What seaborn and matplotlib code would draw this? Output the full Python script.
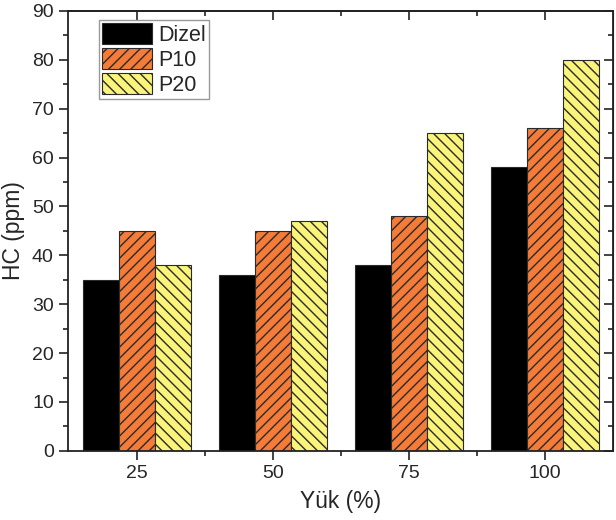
import pandas as pd
import seaborn as sns
import matplotlib.pyplot as plt
from matplotlib.ticker import MultipleLocator, FixedLocator

# data
loads = ['25', '50', '75', '100']
fuels = ['Dizel', 'P10', 'P20']
dizel = [35, 36, 38, 58]
p10 = [45, 45, 48, 66]
p20 = [38, 47, 65, 80]

colors = ['#000000', '#F47B38', '#FAF47A']
hatches = ['', '///', '\\\\\\']

df = pd.DataFrame({
    'load': loads * 3,
    'fuel': [f for f in fuels for _ in loads],
    'hc': dizel + p10 + p20,
})

sns.set_style('ticks')
plt.rcParams['font.family'] = ['Liberation Sans', 'DejaVu Sans']
plt.rcParams['hatch.linewidth'] = 1.0

fig = plt.figure(figsize=(6.16, 5.2), dpi=100)
ax = fig.add_axes([0.110, 0.133, 0.885, 0.846])

sns.barplot(data=df, x='load', y='hc', hue='fuel', order=loads, hue_order=fuels,
            palette=colors, saturation=1, width=0.8, legend=False, ax=ax,
            edgecolor='black', linewidth=0.8)

for cont, h in zip(ax.containers, hatches):
    for bar in cont:
        bar.set_hatch(h)
        bar.set_edgecolor('#2a2a2a')

ax.set_xlim(-0.51, 3.5)
ax.set_ylim(0, 90)
ax.yaxis.set_major_locator(MultipleLocator(10))
ax.yaxis.set_minor_locator(MultipleLocator(5))
ax.xaxis.set_minor_locator(FixedLocator([0.5, 1.5, 2.5]))

ax.set_xlabel('Yük (%)', fontsize=16.5, labelpad=6)
ax.set_ylabel('HC (ppm)', fontsize=16.5, labelpad=5)

for s in ax.spines.values():
    s.set_linewidth(1.3)
    s.set_color('#222222')

ax.tick_params(which='major', direction='out', length=6.5, width=1.2, labelsize=14, color='#222222')
ax.tick_params(which='minor', direction='out', length=3.5, width=1.2, color='#222222')

# inward ticks on top and right
top = ax.secondary_xaxis('top')
top.set_xticks(range(len(loads)))
top.xaxis.set_minor_locator(FixedLocator([0.5, 1.5, 2.5]))
top.tick_params(which='major', direction='in', length=6.5, width=1.2, labeltop=False, color='#222222')
top.tick_params(which='minor', direction='in', length=3.5, width=1.2, color='#222222')
top.spines['top'].set_linewidth(1.3)

right = ax.secondary_yaxis('right')
right.yaxis.set_major_locator(MultipleLocator(10))
right.yaxis.set_minor_locator(MultipleLocator(5))
right.tick_params(which='major', direction='in', length=6.5, width=1.2, labelright=False, color='#222222')
right.tick_params(which='minor', direction='in', length=3.5, width=1.2, color='#222222')

leg = ax.legend(ax.containers, fuels, loc='upper left', bbox_to_anchor=(0.057, 0.98),
                fontsize=15.5, frameon=True, fancybox=False, framealpha=1,
                edgecolor='#999999', handlelength=2.3, handleheight=1.1,
                labelspacing=0.12, handletextpad=0.3, borderpad=0.15, borderaxespad=0)
leg.get_frame().set_linewidth(1.0)

fig.savefig('out.png', dpi=100)
